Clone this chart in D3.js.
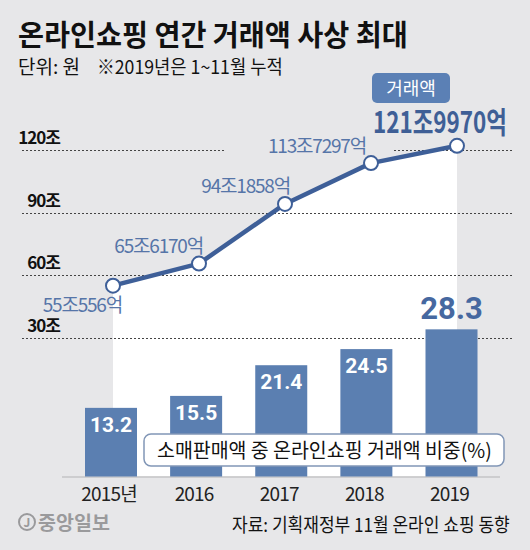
<!DOCTYPE html>
<html><head><meta charset="utf-8">
<script src="https://cdn.jsdelivr.net/npm/d3@7"></script>
<style>
html,body{margin:0;padding:0;background:#e7e7e9;}
svg{display:block;font-family:"Noto Sans CJK KR","Noto Sans",sans-serif;}
</style></head>
<body><svg id="c" width="530" height="550"></svg>
<script>
const years = ["2015","2016","2017","2018","2019"];
const yearLabels = ["2015년","2016","2017","2018","2019"];
const amounts = [55.0556, 65.6170, 94.1858, 113.7297, 121.9970]; // 조 원
const amountLabels = ["55조556억","65조6170억","94조1858억","113조7297억","121조9970억"];
const shares = [13.2, 15.5, 21.4, 24.5, 28.3]; // %
const yTicks = [30, 60, 90, 120];
const yTickLabels = ["30조","60조","90조","120조"];

const svg = d3.select("#c");
const BG = "#e7e7e9", BAR = "#5b7fb1", LINE = "#3e5f98", LBL = "#5675a8";

svg.append("rect").attr("width",530).attr("height",550).attr("fill",BG);

// place text starting at x (anchor start) or ending at x (anchor end), horizontally scaled to width w
function fitText(parent, str, x, y, w, size, opts={}){
  const g = parent.append("g");
  const t = g.append("text").attr("x",0).attr("y",0).attr("font-size",size)
    .attr("font-weight",opts.weight||"normal").attr("fill",opts.fill||"#111").text(str);
  const nat = t.node().getComputedTextLength();
  const k = w / nat;
  const x0 = opts.anchor==="end" ? x - w : (opts.anchor==="middle" ? x - w/2 : x);
  g.attr("transform",`translate(${x0},${y}) scale(${k},1)`);
  return g;
}

// scales
const xBar = d3.scalePoint().domain(years).range([111, 451.5]);
const xLine = d3.scalePoint().domain(years).range([113, 457]);
const yBar = d3.scaleLinear().domain([0, 30]).range([476.5, 320.5]);
const yLine = d3.scaleLinear().domain([30, 120]).range([338, 150]);
const base = yBar(0);

// white area under the line
const area = d3.area().x((d,i)=>xLine(years[i])).y0(base).y1(d=>yLine(d));
svg.append("path").datum(amounts).attr("d",area).attr("fill","#fff");

// gridlines + y labels
const grid = svg.append("g");
yTicks.forEach((t,i)=>{
  grid.append("line").attr("x1",22).attr("x2",512)
    .attr("y1",Math.round(yLine(t))+0.5).attr("y2",Math.round(yLine(t))+0.5)
    .attr("stroke","#444").attr("stroke-width",1).attr("stroke-dasharray","2,2");
  svg.append("text").attr("x",60).attr("y",yLine(t)-6).attr("text-anchor","end")
    .attr("font-size",17).attr("font-weight","bold").attr("fill","#111")
    .attr("letter-spacing",-1).text(yTickLabels[i]);
});

// baseline
svg.append("line").attr("x1",62).attr("x2",500).attr("y1",base+0.5).attr("y2",base+0.5)
  .attr("stroke","#c4c4c6").attr("stroke-width",1.5);

// bars
const bw = 52;
svg.append("g").selectAll("rect").data(shares).join("rect")
  .attr("x",(d,i)=>xBar(years[i])-bw/2).attr("width",bw)
  .attr("y",d=>yBar(d)).attr("height",d=>base-yBar(d)).attr("fill",BAR);

// bar labels
svg.append("g").selectAll("text").data(shares).join("text")
  .attr("x",(d,i)=>xBar(years[i]))
  .attr("y",(d,i)=> i===shares.length-1 ? yBar(d)-10 : yBar(d)+24)
  .attr("text-anchor","middle")
  .attr("font-size",(d,i)=> i===shares.length-1 ? 31 : 21)
  .attr("font-weight","bold")
  .attr("font-family","'Liberation Sans Narrow','Roboto',sans-serif")
  .attr("fill",(d,i)=> i===shares.length-1 ? "#4668a0" : "#fff")
  .text(d=>d.toFixed(1));

// legend box
svg.append("rect").attr("x",144).attr("y",434).attr("width",360).attr("height",32).attr("rx",7)
  .attr("fill","#fff").attr("stroke","#8196b6").attr("stroke-width",1.5);
fitText(svg, "소매판매액 중 온라인쇼핑 거래액 비중(%)", 157, 458, 335, 20);

// x labels
svg.append("g").selectAll("text").data(yearLabels).join("text")
  .attr("x",(d,i)=>xBar(years[i])-2).attr("y",501).attr("text-anchor","middle")
  .attr("font-size",19).attr("fill","#222").attr("letter-spacing",-0.8).text(d=>d);

// point labels (layout offsets relative to each point)
const lblOffsets = [[9,26],[4,-11],[5,-11],[-5,-10]];
const lg = svg.append("g");
amounts.slice(0,4).forEach((v,i)=>{
  const t = lg.append("text").attr("x",xLine(years[i])+lblOffsets[i][0])
    .attr("y",yLine(v)+lblOffsets[i][1]).attr("text-anchor","end")
    .attr("font-size",19).attr("fill",LBL).attr("letter-spacing",-1.2).text(amountLabels[i]);
  if(i===3){
    const b = t.node().getBBox();
    lg.insert("rect","text").attr("x",b.x-43).attr("y",b.y).attr("width",b.width+71).attr("height",b.height+2).attr("fill",BG);
  }
});

// line + points
const line = d3.line().x((d,i)=>xLine(years[i])).y(d=>yLine(d));
svg.append("path").datum(amounts).attr("d",line).attr("fill","none")
  .attr("stroke",LINE).attr("stroke-width",4.5).attr("stroke-linejoin","round");
svg.append("g").selectAll("circle").data(amounts).join("circle")
  .attr("cx",(d,i)=>xLine(years[i])).attr("cy",d=>yLine(d)).attr("r",7)
  .attr("fill","#fff").attr("stroke",LINE).attr("stroke-width",2);

// badge + highlight value
svg.append("rect").attr("x",372).attr("y",73).attr("width",78).attr("height",30).attr("rx",5).attr("fill","#5b80b5");
svg.append("text").attr("x",411).attr("y",95).attr("text-anchor","middle").attr("font-size",18)
  .attr("fill","#fff").text("거래액");
fitText(svg, amountLabels[4], 373, 133, 134, 30, {weight:"bold", fill:"#3f5f96"});

// title / subtitle
fitText(svg, "온라인쇼핑 연간 거래액 사상 최대", 18, 46, 390, 29, {weight:"bold"});
fitText(svg, "단위: 원", 18, 74, 62, 19);
fitText(svg, "※2019년은 1~11월 누적", 97, 74, 186, 19);

// source
fitText(svg, "자료: 기획재정부 11월 온라인 쇼핑 동향", 510, 532, 278, 19, {anchor:"end"});

// logo
svg.append("circle").attr("cx",27).attr("cy",522).attr("r",8).attr("fill","none")
  .attr("stroke","#9a9a9c").attr("stroke-width",2);
svg.append("text").attr("x",27).attr("y",527).attr("text-anchor","middle").attr("font-size",12)
  .attr("font-weight","bold").attr("fill","#9a9a9c").text("J");
fitText(svg, "중앙일보", 38, 530, 72, 19, {weight:"bold", fill:"#9a9a9c"});
</script></body></html>
